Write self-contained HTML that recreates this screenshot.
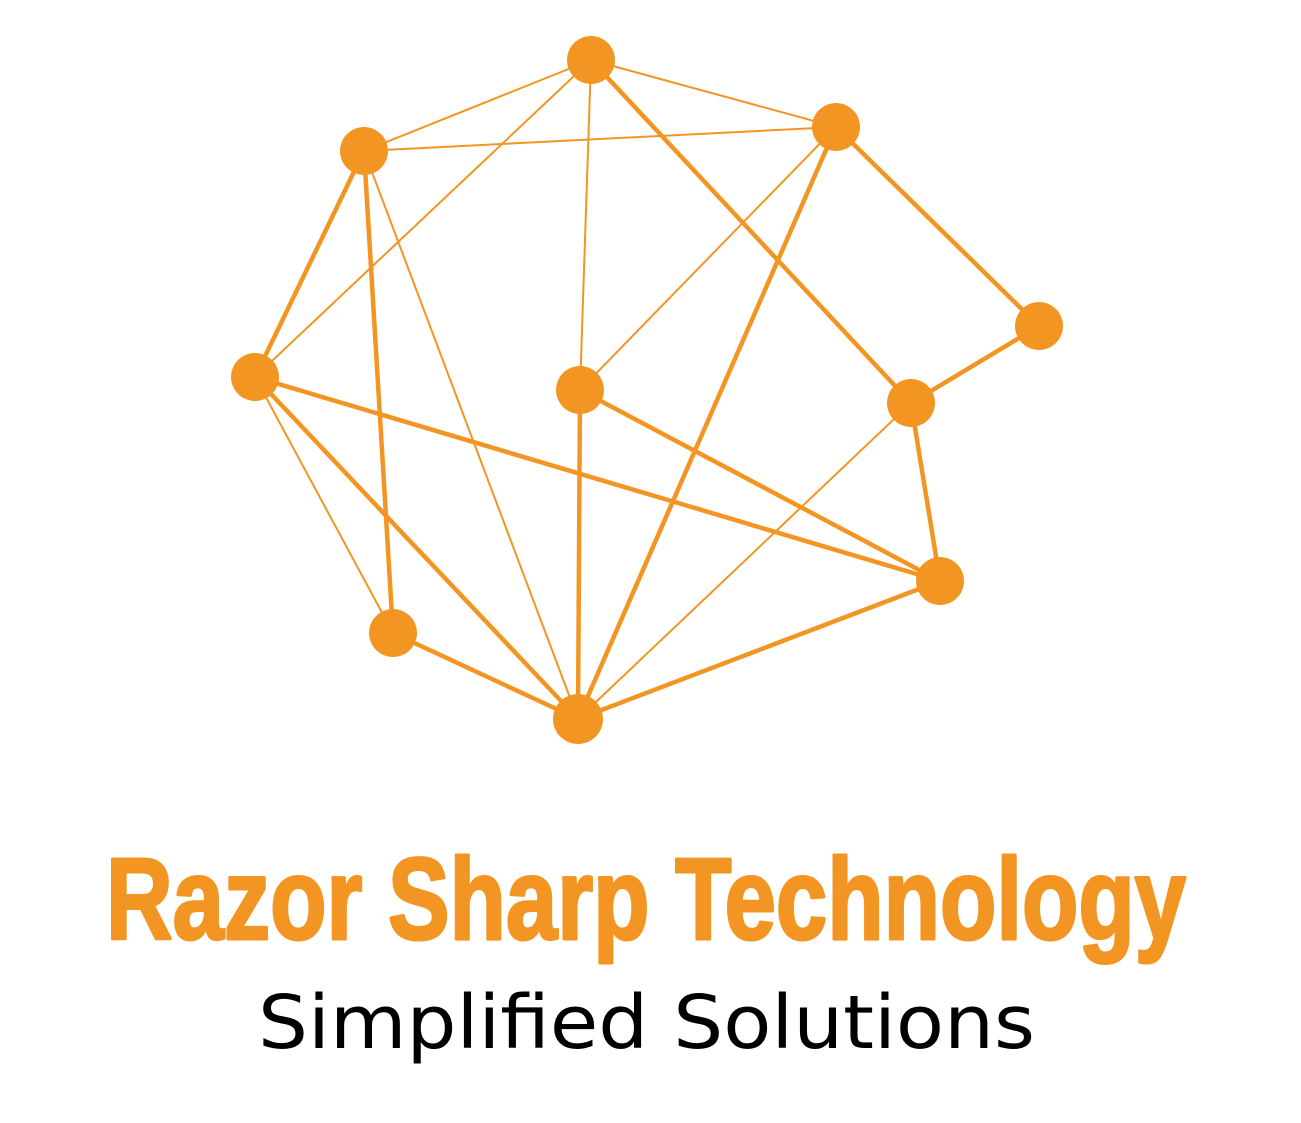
<!DOCTYPE html>
<html><head><meta charset="utf-8"><style>
html,body{margin:0;padding:0;background:#fff;}
svg{display:block;}
</style></head><body>
<svg width="1301" height="1123" viewBox="0 0 1301 1123" xmlns="http://www.w3.org/2000/svg">
<g stroke="#F39522" stroke-linecap="round" fill="none">
<g stroke-width="2">
<line x1="591" y1="60" x2="364" y2="151"/>
<line x1="591" y1="60" x2="836" y2="127"/>
<line x1="364" y1="151" x2="836" y2="127"/>
<line x1="591" y1="60" x2="255" y2="377"/>
<line x1="591" y1="60" x2="580" y2="390"/>
<line x1="836" y1="127" x2="580" y2="390"/>
<line x1="364" y1="151" x2="578" y2="719"/>
<line x1="255" y1="377" x2="393" y2="633"/>
<line x1="911" y1="403" x2="578" y2="719"/>
</g>
<g stroke-width="4.5">
<line x1="591" y1="60" x2="911" y2="403"/>
<line x1="836" y1="127" x2="1039" y2="326"/>
<line x1="1039" y1="326" x2="911" y2="403"/>
<line x1="911" y1="403" x2="940" y2="581"/>
<line x1="364" y1="151" x2="255" y2="377"/>
<line x1="364" y1="151" x2="393" y2="633"/>
<line x1="255" y1="377" x2="940" y2="581"/>
<line x1="255" y1="377" x2="578" y2="719"/>
<line x1="580" y1="390" x2="578" y2="719"/>
<line x1="580" y1="390" x2="940" y2="581"/>
<line x1="836" y1="127" x2="578" y2="719"/>
<line x1="393" y1="633" x2="578" y2="719"/>
<line x1="940" y1="581" x2="578" y2="719"/>
</g>
</g>
<g fill="#F39522">
<circle cx="591" cy="60" r="24"/>
<circle cx="364" cy="151" r="24"/>
<circle cx="836" cy="127" r="24"/>
<circle cx="1039" cy="326" r="24"/>
<circle cx="255" cy="377" r="24"/>
<circle cx="580" cy="390" r="24"/>
<circle cx="911" cy="403" r="24"/>
<circle cx="940" cy="581" r="24"/>
<circle cx="393" cy="633" r="24"/>
<circle cx="578" cy="719" r="25"/>
</g>
<text x="106" y="939" font-family="Liberation Sans Narrow, Liberation Sans, sans-serif" font-weight="bold" font-size="116" fill="#F39522" stroke="#F39522" stroke-width="3" stroke-linejoin="round" textLength="1080" lengthAdjust="spacingAndGlyphs">Razor Sharp Technology</text>
<text x="258" y="1048" font-family="DejaVu Sans, sans-serif" font-size="74" fill="#000" textLength="777" lengthAdjust="spacingAndGlyphs">Simplified Solutions</text>
</svg>
</body></html>
